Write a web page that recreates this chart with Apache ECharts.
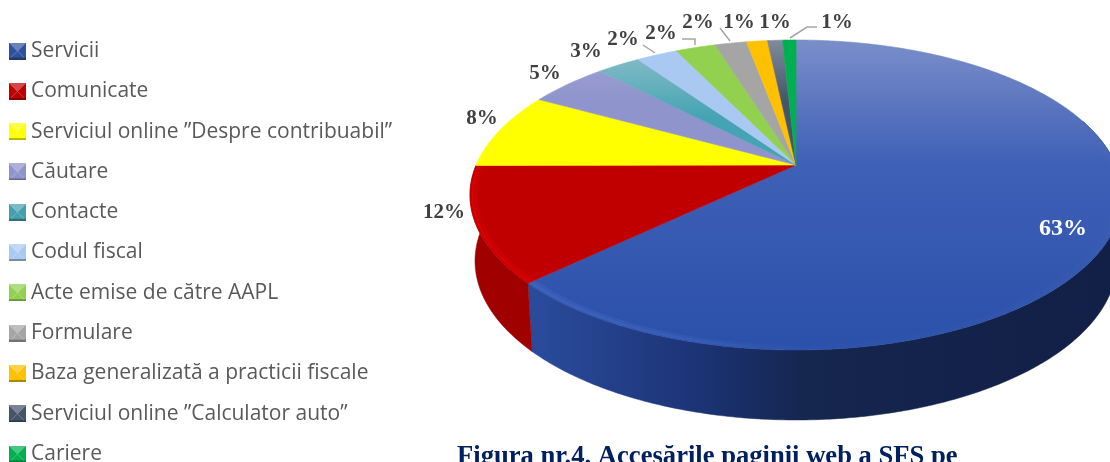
<!DOCTYPE html>
<html>
<head>
<meta charset="utf-8">
<title>Figura nr.4</title>
<style>
  html, body { margin: 0; padding: 0; background: #fff; overflow: hidden; }
  #chart { width: 1110px; height: 462px; }
</style>
</head>
<body>
<div id="chart"></div>
<script src="https://cdn.jsdelivr.net/npm/echarts@6/dist/echarts.min.js"></script>
<script>
const categories = ['Servicii', 'Comunicate', 'Serviciul online ”Despre contribuabil”', 'Căutare', 'Contacte', 'Codul fiscal',
  'Acte emise de către AAPL', 'Formulare', 'Baza generalizată a practicii fiscale', 'Serviciul online ”Calculator auto”', 'Cariere'];
const values = [62.95, 12, 8, 4.75, 2.6, 2.45, 2.4, 1.9, 1.25, 0.9, 0.8];
const captionText = 'Figura nr.4. Accesările paginii web a SFS pe';

// culori
const swatchColors = ['#2f529f', '#c00000', '#ffff00', '#8f94cc', '#44a0ae', '#a9c9f3', '#92d050', '#a5a5a5', '#ffc000', '#44546a', '#00b050'];
const topStops = [
  [[0, '#7a8ec9'], [0.4, '#3f60b7'], [1, '#2a50a9']],
  [[0, '#c00000'], [1, '#c00000']],
  [[0, '#ffff00'], [1, '#ffff00']],
  [[0, '#a0a3d4'], [0.2, '#8f94cc'], [1, '#8f94cc']],
  [[0, '#8fc2cc'], [0.12, '#6fb3c0'], [0.25, '#45a3b3'], [1, '#45a3b3']],
  [[0, '#a9c9f3'], [1, '#a9c9f3']],
  [[0, '#92d050'], [1, '#92d050']],
  [[0, '#a5a5a5'], [1, '#a5a5a5']],
  [[0, '#ffc000'], [1, '#ffc000']],
  [[0, '#808a9c'], [0.2, '#44546a'], [1, '#44546a']],
  [[0, '#00b050'], [1, '#00b050']]
];
const sideStops = [
  [[0, '#2a4b9c'], [0.1, '#2a4b9c'], [0.36, '#1c3375'], [0.52, '#15264f'], [1, '#121f46']],
  [[0, '#a00000'], [1, '#a00000']]
];
const rimStops = [
  [[0, 'rgba(90,130,225,0.75)'], [0.3, 'rgba(90,130,225,0.55)'], [0.5, 'rgba(90,130,225,0.1)'], [1, 'rgba(120,140,200,0.12)']],
  [[0, 'rgba(255,0,0,0.85)'], [1, 'rgba(240,0,0,0.7)']]
];

// geometria discului (perspectiva: centrul apare mai sus decat centrul elipsei)
const cx = 796, topCy = 195, topRx = 326, topRy = 155;
const botCy = 261, botRx = 321, botRy = 159;
const persp = 30 / 155;
const labelAnchors = [[1063, 229], [444, 213], [482, 119], [545, 74], [586, 52], [623, 40], [661, 34], [698, 23], [739, 23], [775, 23], [837, 23]];
const leaderLines = [null, null, null, null, null, [[643, 45], [655, 53]], [[682, 39], [695, 39], [695, 45]],
  [[720, 28], [730, 41]], null, null, [[817, 27], [807, 27], [790, 38]]];

const total = values.reduce((a, b) => a + b, 0);
const cumulative = [];
values.reduce((sum, v, i) => { cumulative[i] = sum; return sum + v; }, 0);

function project(theta, r, ecx, ecy, rx, ry) {
  let x = Math.sin(theta) * r, y = Math.cos(theta) * r;
  let s = Math.sqrt(1 - persp * persp);
  let den = 1 + persp * y;
  return [ecx + rx * x * s / den, ecy - ry * (y + persp) / den];
}
function topPoint(theta, r) { return project(theta, r === undefined ? 1 : r, cx, topCy, topRx, topRy); }
function botPoint(theta) { return project(theta, 1, cx, botCy, botRx, botRy); }

function arcThetas(a0, a1) {
  let out = [];
  let n = Math.max(2, Math.ceil((a1 - a0) / 0.01));
  for (let i = 0; i <= n; i++) out.push(a0 + (a1 - a0) * i / n);
  return out;
}
function linear(x, y, x2, y2, stops) {
  return { type: 'linear', x: x, y: y, x2: x2, y2: y2, global: true,
    colorStops: stops.map(s => ({ offset: s[0], color: s[1] })) };
}

function renderSlice(idx, params, api) {
  let value = api.value(0);
  let a0 = cumulative[idx] / total * Math.PI * 2;
  let a1 = a0 + value / total * Math.PI * 2;
  let thetas = arcThetas(a0, a1);
  let children = [];

  // partea laterala, doar pentru feliile din fata
  if (sideStops[idx]) {
    let from = Math.max(a0, Math.PI * 0.4);
    let side = arcThetas(from, a1);
    let pts = side.map(t => topPoint(t)).concat(side.slice().reverse().map(t => botPoint(t)));
    let fill = linear(470, 0, 1110, 0, sideStops[idx]);
    children.push({ type: 'polygon', shape: { points: pts }, style: { fill: fill, stroke: fill, lineWidth: 0.5 } });
  }

  // fata de sus
  let top = linear(0, 40, 0, 350, topStops[idx]);
  let pts = [topPoint(0, 0)].concat(thetas.map(t => topPoint(t)));
  children.push({ type: 'polygon', shape: { points: pts }, style: { fill: top, stroke: top, lineWidth: 0.6 } });

  // marginea luminata
  if (rimStops[idx]) {
    let rim = arcThetas(Math.max(a0, Math.PI * 0.45), Math.min(a1, Math.PI * 1.5));
    let stroke = linear(500, 0, 1110, 0, rimStops[idx]);
    children.push({ type: 'polyline', shape: { points: rim.map(t => topPoint(t, 0.992)) },
      style: { fill: null, stroke: stroke, lineWidth: 2.5, opacity: 0.45 } });
    children.push({ type: 'polyline', shape: { points: rim.map(t => topPoint(t, 0.982)) },
      style: { fill: null, stroke: stroke, lineWidth: 2.5, opacity: 0.25 } });
  }

  // eticheta
  let anchor = labelAnchors[idx];
  let big = idx === 0;
  children.push({ type: 'text', z2: 10, style: {
    text: Math.round(value) + '%', x: anchor[0], y: anchor[1], textAlign: 'center', textVerticalAlign: 'middle',
    fontFamily: '"Liberation Serif"', fontWeight: 'bold', fontSize: big ? 24 : 21, fill: big ? '#ffffff' : '#404040'
  } });
  if (leaderLines[idx]) {
    children.push({ type: 'polyline', z2: 10, shape: { points: leaderLines[idx] },
      style: { fill: null, stroke: '#a6a6a6', lineWidth: 1.5 } });
  }
  return { type: 'group', children: children };
}

// patratelele din legenda, cu aspect de piramida
function shade(hex, k) {
  let n = parseInt(hex.slice(1), 16);
  let c = [n >> 16 & 255, n >> 8 & 255, n & 255].map(v => Math.max(0, Math.min(255, Math.round(k > 0 ? v + (255 - v) * k : v * (1 + k)))));
  return 'rgb(' + c.join(',') + ')';
}
function swatchIcon(color) {
  let c = document.createElement('canvas');
  c.width = c.height = 17;
  let g = c.getContext('2d');
  let tri = (pts, fill) => {
    g.fillStyle = fill;
    g.beginPath();
    pts.forEach((p, i) => i ? g.lineTo(p[0], p[1]) : g.moveTo(p[0], p[1]));
    g.closePath();
    g.fill();
  };
  tri([[0, 0], [17, 0], [8.5, 8.5]], shade(color, 0.28));
  tri([[0, 0], [0, 17], [8.5, 8.5]], color);
  tri([[17, 0], [17, 17], [8.5, 8.5]], color);
  tri([[0, 17], [17, 17], [8.5, 8.5]], color);
  tri([[0, 15], [17, 15], [17, 17], [0, 17]], shade(color, -0.3));
  return 'image://' + c.toDataURL();
}

const chart = echarts.init(document.getElementById('chart'), null, { renderer: 'canvas' });
chart.setOption({
  animation: false,
  backgroundColor: '#ffffff',
  title: {
    text: captionText,
    left: 457,
    top: 444,
    padding: 0,
    textStyle: { fontFamily: '"Liberation Serif"', fontWeight: 'bold', fontSize: 26.6, color: '#002060' }
  },
  legend: {
    orient: 'vertical',
    left: 9,
    top: 40.5,
    height: 600,
    padding: 0,
    itemWidth: 17,
    itemHeight: 17,
    itemGap: 19.3,
    selectedMode: false,
    textStyle: { fontFamily: '"Open Sans"', fontSize: 21, lineHeight: 17, color: '#595959' },
    data: categories.map((name, i) => ({ name: name, icon: swatchIcon(swatchColors[i]) }))
  },
  series: categories.map((name, i) => ({
    type: 'custom',
    name: name,
    coordinateSystem: 'none',
    silent: true,
    clip: false,
    itemStyle: { color: swatchColors[i] },
    renderItem: (params, api) => renderSlice(i, params, api),
    data: [[values[i]]]
  }))
});
</script>
</body>
</html>
